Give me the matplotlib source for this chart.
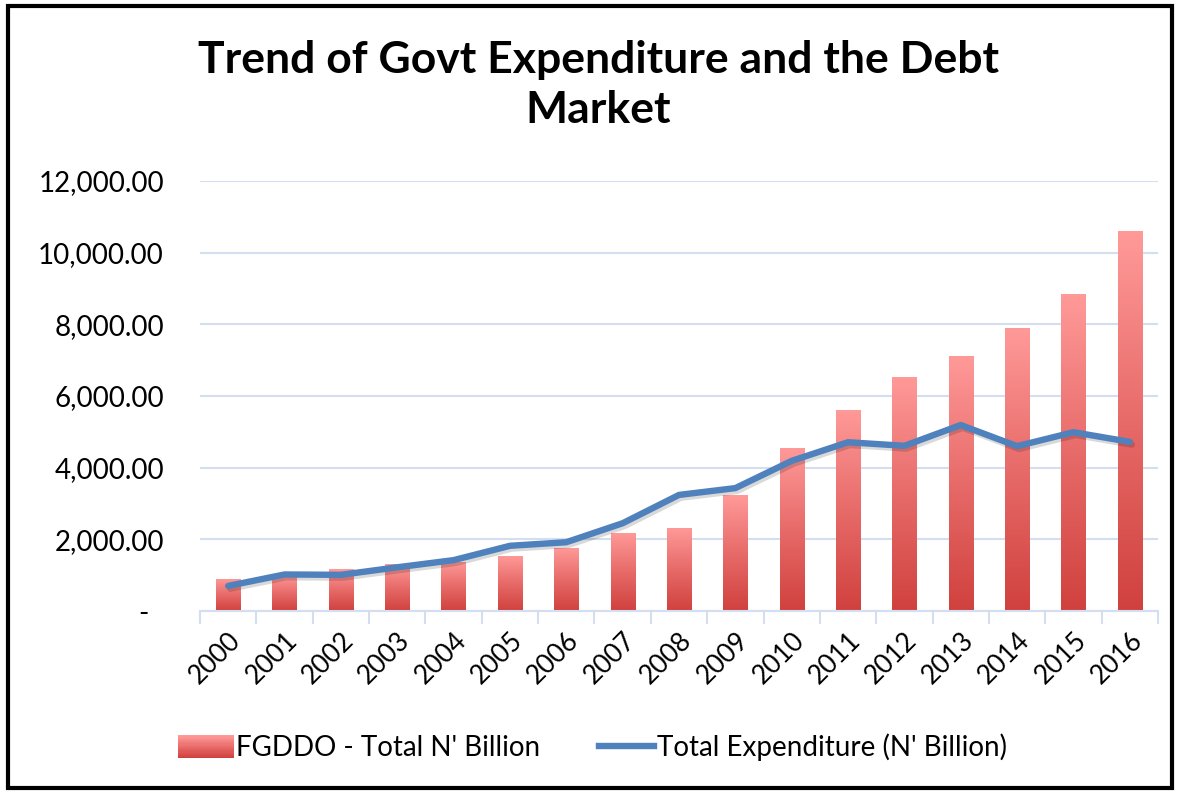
import matplotlib
matplotlib.use('Agg')
import matplotlib.pyplot as plt
import matplotlib.patheffects as pe
from matplotlib.colors import LinearSegmentedColormap
from matplotlib.patches import Rectangle
from matplotlib.lines import Line2D
from matplotlib.legend_handler import HandlerBase
import numpy as np

# data
years = ['2000', '2001', '2002', '2003', '2004', '2005', '2006', '2007', '2008',
         '2009', '2010', '2011', '2012', '2013', '2014', '2015', '2016']
fgddo = [895, 1000, 1170, 1310, 1380, 1545, 1765, 2180, 2320,
         3230, 4550, 5620, 6540, 7120, 7900, 8840, 10600]
expenditure = [700, 1020, 1010, 1220, 1420, 1820, 1920, 2450, 3240,
               3430, 4190, 4710, 4610, 5190, 4600, 4990, 4720]

plt.rcParams['font.family'] = ['Lato', 'DejaVu Sans']

fig = plt.figure(figsize=(11.78, 7.92), dpi=100)
ax = fig.add_axes([0.1698, 0.2285, 0.8132, 0.543])

x = np.arange(len(years))
grad = LinearSegmentedColormap.from_list('g', ['#d0413e', '#e76b69', '#ff9a99'])
gimg = np.linspace(0, 1, 256).reshape(-1, 1)

bars = ax.bar(x, fgddo, width=0.43, color='none', edgecolor='none', zorder=2)
for b in bars:
    bx, by = b.get_x(), b.get_y()
    w, h = b.get_width(), b.get_height()
    im = ax.imshow(gimg, cmap=grad, origin='lower', aspect='auto',
                   extent=[bx, bx + w, by, by + h], zorder=2)
    im.set_clip_path(b)

ax.plot(x, expenditure, color='#4f81bd', lw=4.6, zorder=3, solid_capstyle='round',
        path_effects=[pe.SimpleLineShadow(offset=(1.5, -2), shadow_color='k', alpha=0.15),
                      pe.Normal()])

ax.set_xlim(-0.5, len(years) - 0.5)
ax.set_ylim(0, 12000)
ax.set_yticks(np.arange(0, 12001, 2000))
ax.set_yticklabels(['-  ' if v == 0 else f'{v:,.2f}' for v in np.arange(0, 12001, 2000)],
                   fontsize=20)
ax.grid(axis='y', color='#d3dff0', lw=1.5, zorder=0)
ax.set_axisbelow(True)

ax.set_xticks(x)
ax.set_xticklabels(years, rotation=45, ha='right', va='top', rotation_mode='anchor',
                   fontsize=19)
ax.set_xticks(np.arange(-0.5, len(years), 1), minor=True)
ax.tick_params(axis='x', which='major', length=0, pad=12)
ax.tick_params(axis='x', which='minor', length=9, color='#d3dff0', width=1.5)
ax.tick_params(axis='y', length=0, pad=26)

for s in ['top', 'right', 'left']:
    ax.spines[s].set_visible(False)
ax.spines['bottom'].set_color('#d3dff0')
ax.spines['bottom'].set_linewidth(1.5)

fig.text(0.508, 0.893, 'Trend of Govt Expenditure and the Debt\nMarket', ha='center',
         va='center', fontsize=32, fontweight='bold', linespacing=1.3)


class GradientHandler(HandlerBase):
    def create_artists(self, legend, orig_handle, xdescent, ydescent, width, height,
                       fontsize, trans):
        n = 20
        arts = []
        for i in range(n):
            r = Rectangle((xdescent * -1, -ydescent + height * i / n), width, height / n + 0.3,
                          facecolor=grad(i / (n - 1)), edgecolor='none', transform=trans)
            arts.append(r)
        return arts


# legend
bar_handle = Rectangle((0, 0), 1, 1, facecolor='#f08080', edgecolor='none')
line_handle = Line2D([0], [0], color='#4f81bd', lw=4.6)
fig.legend([bar_handle, line_handle],
           ["FGDDO - Total N' Billion", "Total Expenditure (N' Billion)"],
           loc='center', bbox_to_anchor=(0.503, 0.056), ncol=2, frameon=False,
           fontsize=20, handlelength=2.0, handleheight=0.9, handletextpad=0.1,
           columnspacing=2.1, handler_map={Rectangle: GradientHandler()})

# outer border
fig.patches.append(Rectangle((0.007, 0.005), 0.988, 0.988, transform=fig.transFigure,
                             fill=False, edgecolor='black', lw=3))

fig.savefig('out.png', dpi=100)
